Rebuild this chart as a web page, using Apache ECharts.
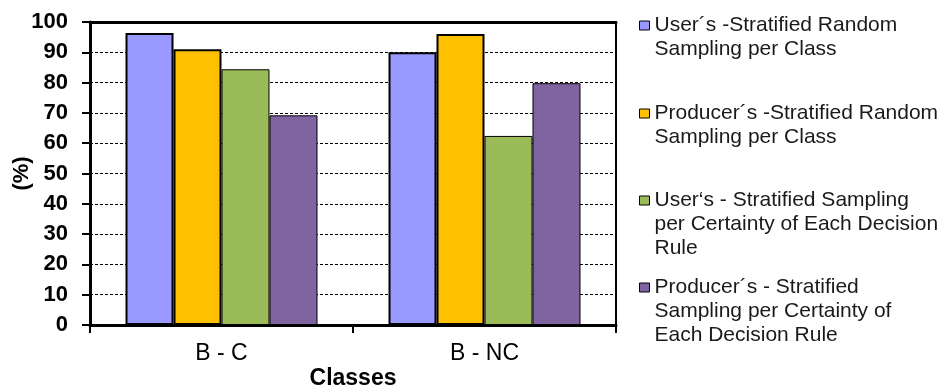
<!DOCTYPE html>
<html>
<head>
<meta charset="utf-8">
<script src="https://cdn.jsdelivr.net/npm/echarts@6/dist/echarts.min.js"></script>
<style>
  html, body { margin: 0; padding: 0; background: #fff; }
  #chart { width: 946px; height: 392px; }
</style>
</head>
<body>
<div id="chart"></div>
<script>
var classes = ['B - C', 'B - NC'];
var seriesNames = [
  'User´s -Stratified Random Sampling per Class',
  'Producer´s -Stratified Random Sampling per Class',
  'User‘s - Stratified Sampling per Certainty of Each Decision Rule',
  'Producer´s - Stratified Sampling per Certainty of Each Decision Rule'
];
// legend text as it is wrapped in the picture
var legendLines = [
  ['User´s -Stratified Random', 'Sampling per Class'],
  ['Producer´s -Stratified Random', 'Sampling per Class'],
  ['User‘s - Stratified Sampling', 'per Certainty of Each Decision', 'Rule'],
  ['Producer´s - Stratified', 'Sampling per Certainty of', 'Each Decision Rule']
];
var usersRandom = [96.4, 90.0];
var producersRandom = [91.0, 96.0];
var usersCertainty = [84.4, 62.4];
var producersCertainty = [69.2, 79.8];
var yTicks = [0, 10, 20, 30, 40, 50, 60, 70, 80, 90, 100];

var colors = ['#9999FF', '#FFC000', '#9BBB59', '#8064A2'];
var borders = [2, 2, 1, 1];
var values = [usersRandom, producersRandom, usersCertainty, producersCertainty];
var font = 'Liberation Sans, Arial, sans-serif';

var lineH = 24;
var legendFirstLine = [25, 113, 200, 287];

// icon: a 10x9 square at the height of the first text line, inside a
// box as tall as the whole text block
function iconPath(n) {
  var h = n * lineH;
  var t = lineH / 2 - 4.5;
  return 'path://M0,0L0,0M0,' + h + 'L0,' + h +
    'M0,' + t + 'H10V' + (t + 9) + 'H0Z';
}

var myChart = echarts.init(document.getElementById('chart'));

var legends = [];
var series = [];
for (var i = 0; i < seriesNames.length; i++) {
  var n = legendLines[i].length;
  legends.push({
    orient: 'vertical',
    left: 639,
    top: legendFirstLine[i] - lineH / 2,
    padding: 0,
    itemWidth: 10,
    itemHeight: n * lineH,
    icon: iconPath(n),
    data: [seriesNames[i]],
    itemStyle: { borderColor: '#000', borderWidth: 1 },
    formatter: (function (lines) {
      return function () { return lines.join('\n'); };
    })(legendLines[i]),
    textStyle: {
      fontFamily: font,
      fontSize: 21,
      color: '#1a1a1a',
      lineHeight: lineH
    }
  });
  series.push({
    name: seriesNames[i],
    type: 'bar',
    data: values[i],
    barGap: '0%',
    barCategoryGap: '27%',
    itemStyle: { color: colors[i], borderColor: '#000', borderWidth: borders[i] }
  });
}

var option = {
  backgroundColor: '#fff',
  animation: false,
  legend: legends,
  grid: {
    left: 90, right: 330, top: 22, bottom: 67,
    outerBoundsMode: 'none',
    containLabel: false,
    show: true, borderColor: '#000', borderWidth: 2
  },
  xAxis: [{
    type: 'category',
    data: classes,
    name: 'Classes',
    nameLocation: 'middle',
    nameGap: 42,
    nameMoveOverlap: false,
    nameTextStyle: { fontFamily: font, fontSize: 23, fontWeight: 'bold', color: '#000' },
    axisLine: { lineStyle: { color: '#000', width: 3 } },
    axisTick: { show: true, length: 8, lineStyle: { color: '#000', width: 2 } },
    axisLabel: { margin: 17, fontFamily: font, fontSize: 23, color: '#000' }
  }, {
    // thick frame line along the top
    type: 'category',
    data: classes,
    position: 'top',
    axisLine: { lineStyle: { color: '#000', width: 3 } },
    axisTick: { show: false },
    axisLabel: { show: false }
  }],
  yAxis: {
    type: 'value',
    min: yTicks[0],
    max: yTicks[yTicks.length - 1],
    interval: 10,
    name: '(%)',
    nameLocation: 'middle',
    nameGap: 57,
    nameMoveOverlap: false,
    nameRotate: 90,
    nameTextStyle: { fontFamily: font, fontSize: 22, fontWeight: 'bold', color: '#000' },
    axisLine: { show: true, lineStyle: { color: '#000', width: 3 } },
    axisTick: { show: true, length: 8, lineStyle: { color: '#000', width: 2 } },
    axisLabel: { margin: 22, fontFamily: font, fontSize: 22, fontWeight: 'bold', color: '#000' },
    splitLine: { show: true, lineStyle: { color: '#000', width: 1, type: [3, 2] } }
  },
  series: series
};

myChart.setOption(option);
</script>
</body>
</html>
